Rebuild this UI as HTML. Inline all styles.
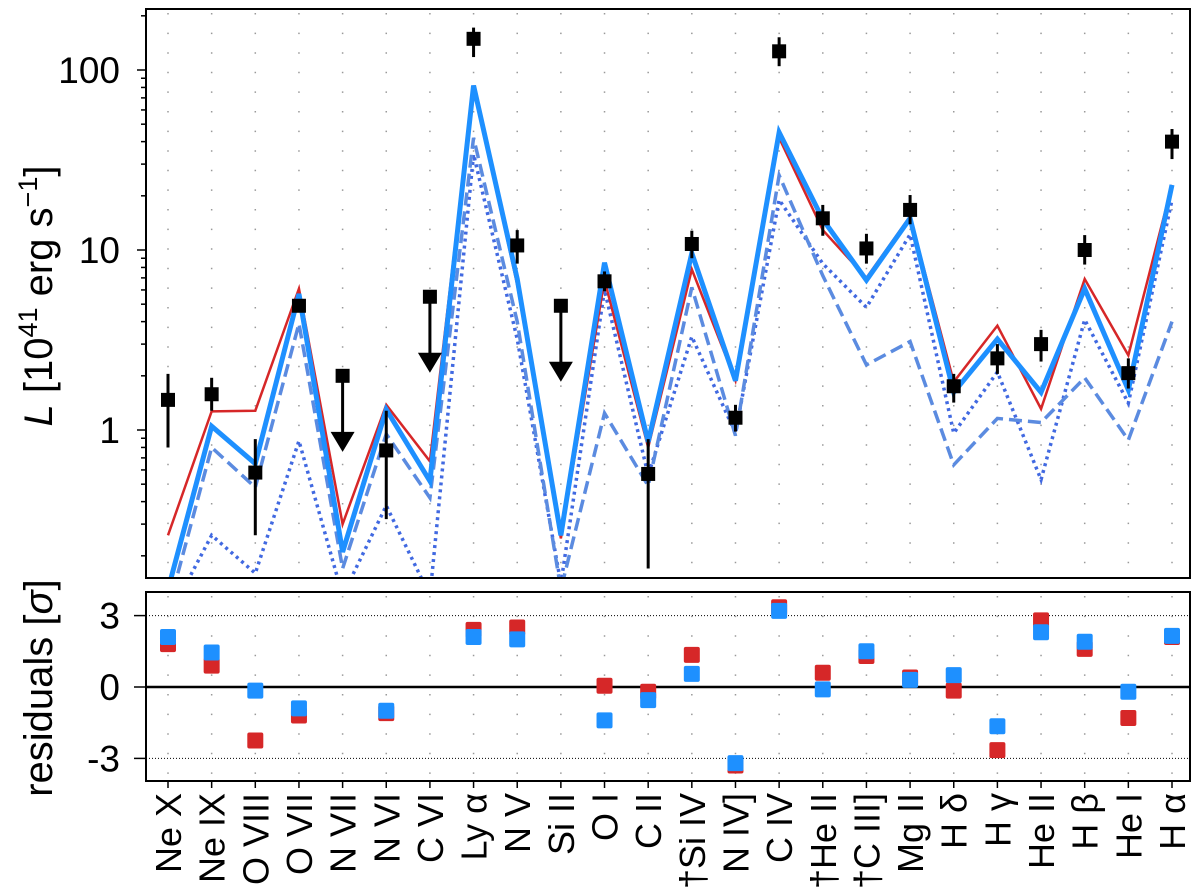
<!DOCTYPE html>
<html><head><meta charset="utf-8"><style>
body{margin:0;background:#fff}
svg{display:block;font-family:"Liberation Sans","DejaVu Sans",sans-serif}
</style></head><body>
<svg id="chart" width="1200" height="894" viewBox="0 0 1200 894" xmlns="http://www.w3.org/2000/svg">
<defs>
<clipPath id="topclip"><rect x="146" y="9" width="1044" height="569"/></clipPath>
<clipPath id="botclip"><rect x="146" y="592" width="1044" height="189"/></clipPath>
</defs>
<g id="grid"></g>
<g id="topPanel" clip-path="url(#topclip)"></g>
<g id="botPanel" clip-path="url(#botclip)"></g>
<g id="axes"></g>
</svg>
<script>
const categories=["Ne X","Ne IX","O VIII","O VII","N VII","N VI","C VI","Ly α","N V","Si II","O I","C II","†Si IV","N IV]","C IV","†He II","†C III]","Mg II","H δ","H γ","He II","H β","He I","H α"];
const obsValues=[1.47,1.58,0.58,4.9,2.0,0.77,5.5,149,10.6,4.9,6.7,0.57,10.8,1.17,127,15,10.2,16.7,1.75,2.5,3.0,10,2.07,40];
const obsLow=[0.80,1.28,0.26,4.6,0,0.32,0,118,8.4,0,5.9,0.17,9.0,0.98,105,12.0,8.4,13.9,1.42,2.05,2.4,8.3,1.7,32];
const obsHigh=[2.05,1.95,0.89,5.3,0,1.28,0,172,12.9,0,7.6,0.89,12.8,1.38,152,17.8,12.3,20.2,2.05,3.0,3.6,12.1,2.5,47];
const isUpperLimit=[0,0,0,0,1,0,1,0,0,1,0,0,0,0,0,0,0,0,0,0,0,0,0,0];
const redModel=[0.26,1.27,1.28,6.1,0.30,1.38,0.67,82,6.4,0.25,6.8,0.80,7.8,1.88,42,12.9,7.0,15.4,1.85,3.8,1.31,6.9,2.6,23];
const blueModel=[0.13,1.05,0.65,5.7,0.21,1.30,0.52,82,6.9,0.26,8.5,0.86,9.6,1.88,45,14.8,6.8,15.0,1.62,3.2,1.62,6.1,1.67,23];
const dashedModel=[0.10,0.80,0.48,3.9,0.17,0.95,0.42,42,4.0,0.13,1.24,0.49,6.2,0.93,26,7.2,2.3,3.1,0.64,1.16,1.10,1.95,0.88,4.0];
const dottedModel=[0.09,0.26,0.16,0.87,0.12,0.38,0.12,34,3.2,0.14,6.0,0.56,3.3,0.96,19,8.4,4.8,12.2,0.96,2.1,0.53,4.1,1.41,19];
const residRed=[1.8,0.9,-2.25,-1.2,null,-1.1,null,2.4,2.5,null,0.05,-0.2,1.35,-3.3,3.35,0.6,1.3,0.4,-0.15,-2.65,2.8,1.6,-1.3,2.1];
const residBlue=[2.1,1.45,-0.15,-0.9,null,-1.0,null,2.1,2.0,null,-1.4,-0.55,0.55,-3.2,3.2,-0.1,1.5,0.3,0.5,-1.65,2.3,1.9,-0.2,2.15];
const yTicksTop=[1,10,100];
const yTicksBot=[3,0,-3];

const NS="http://www.w3.org/2000/svg";
function el(tag,attrs,parent){const e=document.createElementNS(NS,tag);for(const k in attrs)e.setAttribute(k,attrs[k]);parent.appendChild(e);return e;}
const X0=168, DX=(1172-168)/23;
function xs(i){return X0+i*DX;}
function ytop(v){return 430-180*Math.log10(v);}
function ybot(v){return 687-23.8*v;}
const gridG=document.getElementById('grid'),topG=document.getElementById('topPanel'),botG=document.getElementById('botPanel'),axesG=document.getElementById('axes');

categories.forEach((c,i)=>{
  const g1=el('line',{x1:xs(i),x2:xs(i),y1:13,y2:578,stroke:'#999','stroke-width':1.5,'stroke-dasharray':'1.5,18.1'},gridG);
  
  
  const g2=el('line',{x1:xs(i),x2:xs(i),y1:596,y2:781,stroke:'#999','stroke-width':1.5,'stroke-dasharray':'1.5,18.1'},gridG);
  
  
});

function drawLine(vals,attrs,name){
  const pts=vals.map((v,i)=>xs(i)+','+ytop(v)).join(' ');
  const p=el('polyline',Object.assign({points:pts,fill:'none','stroke-linejoin':'miter'},attrs),topG);
  
  
}
drawLine(dottedModel,{stroke:'#4169e1','stroke-width':3.5,'stroke-dasharray':'3,4'},'dotted-model-line');
drawLine(dashedModel,{stroke:'#5b8be0','stroke-width':3.5,'stroke-dasharray':'13,6'},'dashed-model-line');
drawLine(redModel,{stroke:'#d62728','stroke-width':2.5},'red-model-line');
drawLine(blueModel,{stroke:'#1e90ff','stroke-width':5},'blue-model-line');

obsValues.forEach((v,i)=>{
  const x=xs(i),y=ytop(v);
  if(isUpperLimit[i]){
    const a=el('line',{x1:x,x2:x,y1:y,y2:y+60,stroke:'#000','stroke-width':3},topG);
    
    
    const h=el('polygon',{points:`${x-12},${y+56} ${x+12},${y+56} ${x},${y+76}`,fill:'#000'},topG);
    
    
  } else {
    const e=el('line',{x1:x,x2:x,y1:ytop(obsHigh[i]),y2:ytop(obsLow[i]),stroke:'#000','stroke-width':3},topG);
    
    
  }
  const r=el('rect',{x:x-7,y:y-7,width:14,height:14,fill:'#000'},topG);
  
  
});

[3,-3].forEach(v=>{
  const l=el('line',{x1:146,x2:1190,y1:ybot(v),y2:ybot(v),stroke:'#000','stroke-width':1,'stroke-dasharray':'1,2'},botG);
  
  
});
const zl=el('line',{x1:146,x2:1190,y1:ybot(0),y2:ybot(0),stroke:'#000','stroke-width':2.5},botG);


function drawResid(vals,color,name){
  vals.forEach((v,i)=>{
    if(v===null)return;
    const r=el('rect',{x:xs(i)-8,y:ybot(v)-8,width:16,height:16,rx:2,fill:color},botG);
    
    
  });
}
drawResid(residRed,'#d62728','residual-red');
drawResid(residBlue,'#1e90ff','residual-blue');

[[146,9,1044,569],[146,592,1044,189]].forEach((f,k)=>{
  const r=el('rect',{x:f[0],y:f[1],width:f[2],height:f[3],fill:'none',stroke:'#000','stroke-width':2},axesG);
  
  
});
for(let d=-1;d<=2;d++){for(let m=1;m<=9;m++){
  const v=m*Math.pow(10,d);const y=ytop(v);if(y<9||y>578)continue;
  const t=el('line',{x1:146-(m===1?9:5),x2:146,y1:y,y2:y,stroke:'#000','stroke-width':1.5},axesG);
  
  
}}
yTicksTop.forEach(v=>{
  const t=el('text',{x:120,y:ytop(v)+13,'font-size':37,'text-anchor':'end',fill:'#000'},axesG);
  t.textContent=String(v);
  
  
});
yTicksBot.forEach(v=>{
  const tk=el('line',{x1:134,x2:146,y1:ybot(v),y2:ybot(v),stroke:'#000','stroke-width':1.5},axesG);
  
  
  const t=el('text',{x:120,y:ybot(v)+13,'font-size':37,'text-anchor':'end',fill:'#000'},axesG);
  t.textContent=String(v);
  
  
});
categories.forEach((c,i)=>{
  const tk=el('line',{x1:xs(i),x2:xs(i),y1:781,y2:788,stroke:'#000','stroke-width':1.5},axesG);
  
  
  const t=el('text',{x:0,y:0,'font-size':36,'text-anchor':'end',fill:'#000',transform:`translate(${xs(i)+13},793) rotate(-90)`},axesG);
  t.textContent=c;
  
  
});

const yt=el('text',{transform:'translate(52,296) rotate(-90)','text-anchor':'middle','font-size':40},axesG);


yt.innerHTML='<tspan font-style="italic">L</tspan> [10<tspan dy="-15" font-size="27">41</tspan><tspan dy="15"> erg s</tspan><tspan dy="-15" font-size="27">−1</tspan><tspan dy="15">]</tspan>';
const rt=el('text',{transform:'translate(52,688) rotate(-90)','text-anchor':'middle','font-size':40},axesG);


rt.innerHTML='residuals [<tspan font-style="italic">σ</tspan>]';
</script>
</body></html>
